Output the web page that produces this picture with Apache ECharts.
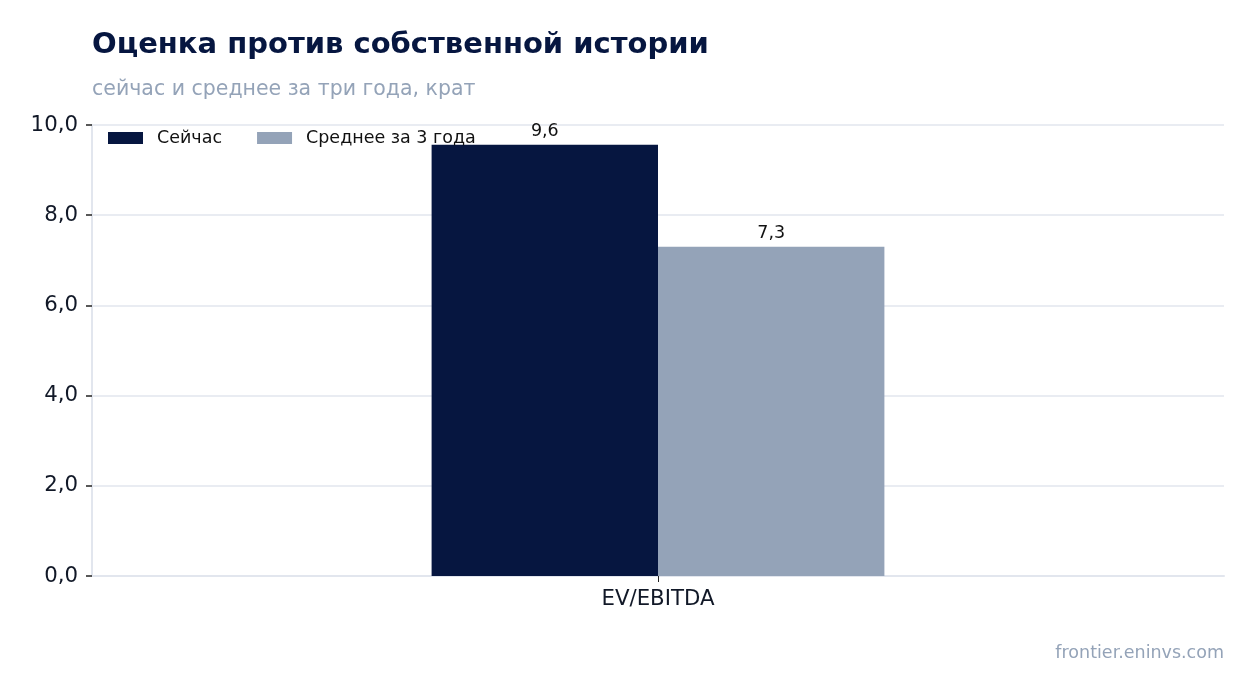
<!DOCTYPE html>
<html>
<head>
<meta charset="utf-8">
<script src="https://cdn.jsdelivr.net/npm/echarts@6/dist/echarts.min.js"></script>
<style>
  html, body { margin: 0; padding: 0; background: #fff; }
  #chart { width: 1254px; height: 693px; }
</style>
</head>
<body>
<div id="chart"></div>
<script>
// data
const categories = ['EV/EBITDA'];
const seriesNames = ['Сейчас', 'Среднее за 3 года'];
const nowValues = [9.56];
const avgValues = [7.3];
const yTicks = [0, 2, 4, 6, 8, 10];

const dark = '#061640';
const grey = '#94a3b8';
const font = 'DejaVu Sans';

const fmt = (v) => v.toFixed(1).replace('.', ',');

const chart = echarts.init(document.getElementById('chart'));
chart.setOption({
    backgroundColor: '#fff',
    textStyle: { fontFamily: font },
    title: [
        {
            text: 'Оценка против собственной истории',
            left: 87, top: 26,
            textStyle: { fontFamily: font, fontSize: 29, fontWeight: 'bold', color: dark }
        },
        {
            text: 'сейчас и среднее за три года, крат',
            left: 87, top: 74,
            textStyle: { fontFamily: font, fontSize: 20.5, fontWeight: 'normal', color: grey }
        },
        {
            text: 'frontier.eninvs.com',
            right: 25, top: 639,
            textStyle: { fontFamily: font, fontSize: 17.5, fontWeight: 'normal', color: grey }
        }
    ],
    legend: {
        left: 103, top: 124,
        itemWidth: 35, itemHeight: 12, itemGap: 35,
        icon: 'rect',
        textStyle: { fontFamily: font, fontSize: 17.5, color: '#111', padding: [0, 0, 0, 9] },
        data: seriesNames
    },
    grid: { left: 92, right: 30, top: 125, bottom: 117, containLabel: false },
    xAxis: {
        type: 'category',
        data: categories,
        axisLine: { lineStyle: { color: '#e2e6ee', width: 2 } },
        axisTick: { show: true, alignWithLabel: true, length: 6, lineStyle: { color: '#222', width: 1 } },
        axisLabel: { fontFamily: font, fontSize: 21.3, color: '#111827', margin: 13 }
    },
    yAxis: {
        type: 'value',
        min: yTicks[0], max: yTicks[yTicks.length - 1], interval: 2,
        axisLine: { show: true, lineStyle: { color: '#e2e6ee', width: 2 } },
        axisTick: { show: true, length: 6, lineStyle: { color: '#222', width: 1.5 } },
        axisLabel: { fontFamily: font, fontSize: 21.3, color: '#111827', margin: 14, formatter: fmt,
            padding: [3, 0, 0, 0] },
        splitLine: { lineStyle: { color: '#e2e6ee', width: 1.5 } }
    },
    series: [
        {
            name: seriesNames[0], type: 'bar', data: nowValues,
            barWidth: '20%', barGap: '0%',
            itemStyle: { color: dark },
            label: { show: true, position: 'top', distance: 4, fontFamily: font, fontSize: 17.5, color: '#111',
                formatter: (p) => fmt(p.value) }
        },
        {
            name: seriesNames[1], type: 'bar', data: avgValues,
            barWidth: '20%', barGap: '0%',
            itemStyle: { color: grey },
            label: { show: true, position: 'top', distance: 4, fontFamily: font, fontSize: 17.5, color: '#111',
                formatter: (p) => fmt(p.value) }
        }
    ],
    animation: false
});
</script>
</body>
</html>
